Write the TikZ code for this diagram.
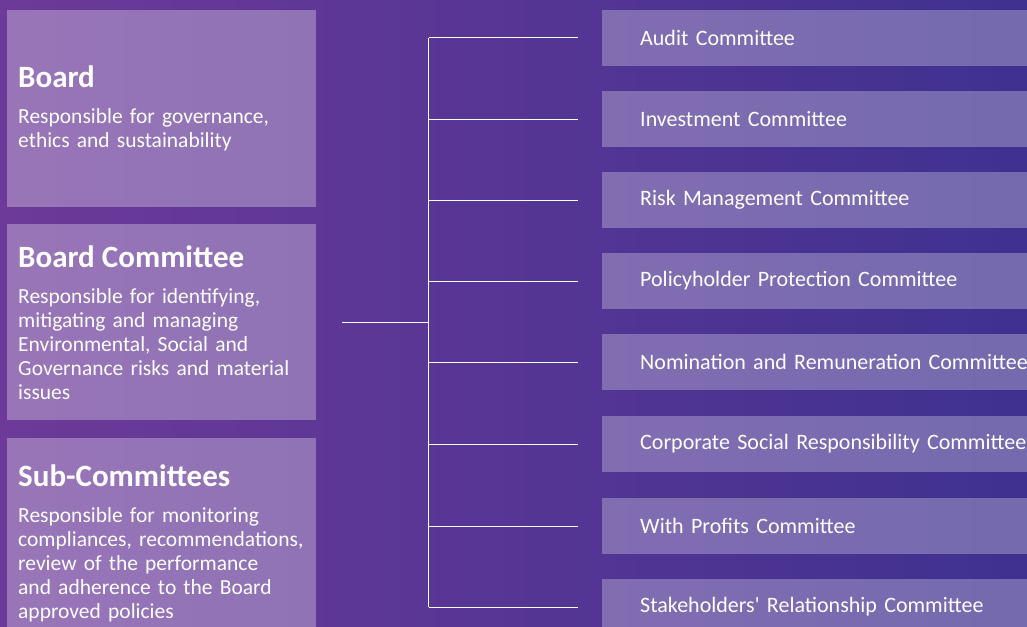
\documentclass[tikz,border=0pt]{standalone}
\usepackage{fontspec}
\setmainfont{Carlito}
\usetikzlibrary{positioning, calc}
\definecolor{cBgLeft}  {HTML}{6D3A99}
\definecolor{cBgMid}   {HTML}{5A3B97}
\definecolor{cBgRight} {HTML}{3F3190}

\tikzset{
  tierbox/.style={fill=white, fill opacity=0.3, text opacity=1, text=white,
    anchor=north west, minimum width=309pt, minimum height=197pt,
    inner xsep=11pt, inner ysep=0pt, text width=287pt, align=left,
    font=\fontsize{21.5}{24}\selectfont},
  combox/.style={fill=white, fill opacity=0.28, text opacity=1, text=white,
    anchor=west, minimum height=56pt, inner xsep=38pt, inner ysep=0pt,
    text width=420pt, align=left, font=\fontsize{22}{24}\selectfont},
  link/.style={draw=white, line width=1pt},
}
\newcommand{\tiertitle}[1]{{\fontsize{31}{32}\selectfont\bfseries #1}\\[12pt]}

\begin{document}
\begin{tikzpicture}[x=1pt, y=-1pt]
  \clip (0,0) rectangle (1027,626);
  \shade[left color=cBgLeft, middle color=cBgMid, right color=cBgRight]
        (0,0) rectangle (1027,626);

  % left tiers
  \node[tierbox] (board) at (7,10)
        {\tiertitle{Board}Responsible for governance,\\ethics and sustainability};
  \node[tierbox, minimum height=196pt] (boardcom) at (7,224)
        {\tiertitle{Board Committee}Responsible for identifying,\\mitigating and managing\\
         Environmental, Social and\\Governance risks and material\\issues};
  \node[tierbox, minimum height=210pt] (subcom) at (7,438)
        {\tiertitle{Sub-Committees}Responsible for monitoring\\compliances, recommendations,\\
         review of the performance\\and adherence to the Board\\approved policies};

  % committees
  \foreach \name/\y/\txt in {
      c1/38/Audit Committee,
      c2/119/Investment Committee,
      c3/200/Risk Management Committee,
      c4/281/Policyholder Protection Committee,
      c5/362/Nomination and Remuneration Committee,
      c6/444/Corporate Social Responsibility Committee,
      c7/526/With Profits Committee,
      c8/607/Stakeholders\textquotesingle\ Relationship Committee}
    \node[combox] (\name) at (602,\y) {\txt};

  \coordinate (trunk) at (428.5,0);
  \draw[link] (trunk |- c1) -- (trunk |- c8);
  \draw[link] ([xshift=26pt]boardcom.east) -- (trunk |- boardcom);
  \foreach \name in {c1,c2,c3,c4,c5,c6,c7,c8}
    \draw[link] (trunk |- \name) -- ([xshift=-24pt]\name.west);
\end{tikzpicture}
\end{document}
